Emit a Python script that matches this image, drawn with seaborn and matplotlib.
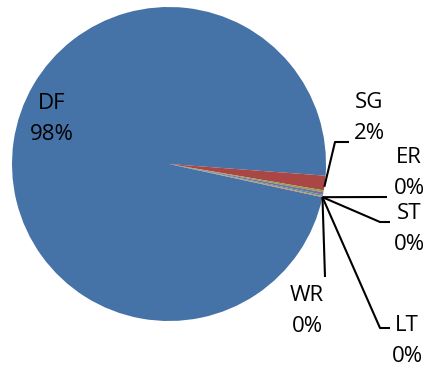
import numpy as np
import matplotlib
matplotlib.use("Agg")
import matplotlib.pyplot as plt
import seaborn as sns

# Share of each category
categories = ["DF", "SG", "ER", "ST", "LT", "WR"]
shares = [97.8, 1.5, 0.2, 0.25, 0.15, 0.1]
pct_labels = ["98%", "2%", "0%", "0%", "0%", "0%"]
colors = ["#4572A7", "#AA4643", "#89A54E", "#80699B", "#3D96AE", "#DB843D"]

sns.set_theme(style="white")
plt.rcParams["font.family"] = ["Open Sans", "DejaVu Sans"]

W, H = 424, 369
CX, CY, R = 169, 164, 157  # pie centre and radius in pixels


def to_data(xp, yp):
    return (xp - CX) / R, (CY - yp) / R


fig = plt.figure(figsize=(W / 100, H / 100), dpi=100)
ax = fig.add_axes([0, 0, 1, 1])
wedges, _ = ax.pie(shares, colors=colors, startangle=347.8, counterclock=False,
                   radius=1.0, wedgeprops=dict(linewidth=0))
ax.set_aspect("auto")
ax.set_xlim(-CX / R, (W - CX) / R)
ax.set_ylim(-(H - CY) / R, CY / R)
ax.axis("off")


def point_at(angle_deg):
    a = np.deg2rad(angle_deg)
    return np.cos(a), np.sin(a)


# the tiny slices share one anchor at the far end of the group
group_end = min(w.theta1 for w in wedges[2:])

# label centres (pixels) and leader-line bends (pixels)
label_pos = {
    "DF": (52, 119),
    "SG": (369, 118),
    "ER": (409, 173),
    "ST": (409, 229),
    "LT": (407, 341),
    "WR": (307, 311),
}
leaders = {
    "SG": [(335, 142), (349, 142)],
    "ER": [(387, 197)],
    "ST": [(380, 222), (390, 222)],
    "LT": [(380, 328), (390, 328)],
    "WR": [(325, 277)],
}

for i, (cat, pct, w) in enumerate(zip(categories, pct_labels, wedges)):
    lx, ly = to_data(*label_pos[cat])
    ax.text(lx, ly, f"{cat}\n{pct}", ha="center", va="center", fontsize=16,
            color="black", linespacing=1.6)
    if cat in leaders:
        if i == 1:
            sx, sy = point_at(w.theta1 + 0.25 * (w.theta2 - w.theta1))
        else:
            sx, sy = point_at(group_end)
        pts = [(sx, sy)] + [to_data(*p) for p in leaders[cat]]
        xs, ys = zip(*pts)
        ax.plot(xs, ys, color="black", lw=1.5, solid_capstyle="butt")

fig.savefig("out.png", dpi=100, facecolor="white")
